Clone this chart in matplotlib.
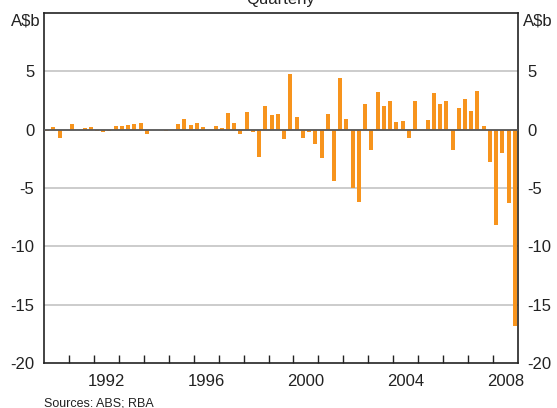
import matplotlib
matplotlib.use("Agg")
import matplotlib.pyplot as plt
import numpy as np

plt.rcParams['font.family'] = ['Liberation Sans', 'DejaVu Sans']

# Quarterly values, 1990Q1 .. 2008Q4 (A$b)
start_year = 1990
values = [
    -0.1, 0.2, -0.7, 0.0,      # 1990
    0.5, 0.0, 0.15, 0.2,       # 1991
    -0.1, -0.2, -0.1, 0.3,     # 1992
    0.3, 0.4, 0.5, 0.55,       # 1993
    -0.35, 0.0, -0.05, -0.1,   # 1994
    0.0, 0.5, 0.9, 0.4,        # 1995
    0.57, 0.23, 0.0, 0.3,      # 1996
    0.15, 1.43, 0.57, -0.35,   # 1997
    1.5, -0.2, -2.3, 2.0,      # 1998
    1.25, 1.35, -0.77, 4.77,   # 1999
    1.1, -0.69, -0.17, -1.2,   # 2000
    -2.4, 1.35, -4.37, 4.43,   # 2001
    0.9, -5.0, -6.17, 2.2,     # 2002
    -1.71, 3.23, 2.03, 2.46,   # 2003
    0.66, 0.74, -0.69, 2.44,   # 2004
    0.0, 0.8, 3.13, 2.18,      # 2005
    2.44, -1.7, 1.84, 2.6,     # 2006
    1.58, 3.3, 0.29, -2.79,    # 2007
    -8.15, -2.0, -6.3, -16.8,  # 2008
]
y_ticks = [-20, -15, -10, -5, 0, 5]
x_label_years = [1992, 1996, 2000, 2004, 2008]
title = "Quarterly"
unit = "A$b"
source = "Sources: ABS; RBA"

W, H = 557, 408
fig = plt.figure(figsize=(W / 100, H / 100), dpi=100)
L, R, T, B = 44, 518, 13, 363
ax = fig.add_axes([L / W, 1 - B / H, (R - L) / W, (B - T) / H])

x = start_year + np.arange(len(values)) * 0.25 + 0.125
ax.bar(x, values, width=0.16, color='#F7941D', zorder=2)

ax.set_xlim(1990, 2009)
ax.set_ylim(-20, 10)

# grid
for yv in y_ticks[1:]:
    ax.axhline(yv, color='#c4c4c4', lw=1.2, zorder=1)
ax.axhline(0, color='#5a5a5a', lw=1.3, zorder=3)

ax.set_yticks(y_ticks)
ax.set_yticklabels([str(v) for v in y_ticks])
ax.tick_params(axis='y', length=0, labelsize=12, colors='#222222', pad=7,
               left=False, right=False, labelleft=True, labelright=True)

ax.set_xticks(np.arange(1991, 2009), minor=True)
ax.set_xticks([yr + 0.5 for yr in x_label_years])
ax.set_xticklabels([str(yr) for yr in x_label_years])
ax.tick_params(axis='x', which='major', length=0, labelsize=12, colors='#222222', pad=8)
ax.tick_params(axis='x', which='minor', direction='in', length=6, width=1, color='#222222')

for s in ax.spines.values():
    s.set_color('#222222')
    s.set_linewidth(1.2)

fig.text((L + R) / 2 / W, 1 - 4 / H, title, ha='center', va='baseline', fontsize=12, color='#222222')
fig.text(41 / W, 1 - 21 / H, unit, ha='right', va='center', fontsize=12, color='#222222')
fig.text(523 / W, 1 - 21 / H, unit, ha='left', va='center', fontsize=12, color='#222222')
fig.text(44 / W, 1 - 403 / H, source, ha='left', va='center', fontsize=9, color='#222222')

fig.savefig('out.png', dpi=100)
